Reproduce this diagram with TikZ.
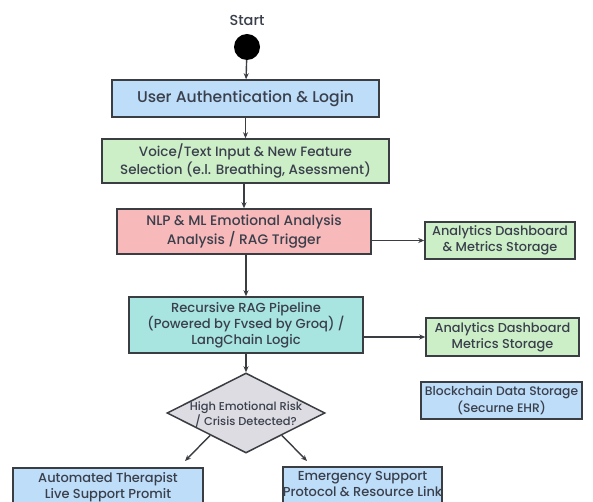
\documentclass[tikz,border=0pt]{standalone}
\usepackage{fontspec}
\setmainfont{Poppins}[UprightFont={* Medium}]
\usetikzlibrary{arrows.meta,shapes.geometric,calc}
\definecolor{txt}{HTML}{3A3F4C}
\definecolor{edge}{HTML}{3A3D42}
\definecolor{bluef}{HTML}{BEDDF8}
\definecolor{greenf}{HTML}{CDEFC8}
\definecolor{redf}{HTML}{F7B9B9}
\definecolor{tealf}{HTML}{A8E4E0}
\definecolor{greyf}{HTML}{DCDCE2}
\begin{document}
\begin{tikzpicture}[x=1pt,y=-1pt,
  box/.style={draw=edge, line width=1.5pt, align=center, inner sep=0pt, text=txt},
  arr/.style={-{Stealth[length=6pt,width=5pt]}, line width=1.4pt, draw=edge}]
\useasboundingbox (0,0) rectangle (593,502);
\clip (0,0) rectangle (593,502);
\fill[white] (0,0) rectangle (593,502);

\node[text=txt, font=\fontsize{14.5}{16}\selectfont] (start) at (247,20) {Start};
\node[circle, fill=black, minimum size=26pt, inner sep=0pt] (dot) at (247,47) {};

\node[box, fill=bluef, minimum width=267pt, minimum height=37pt,
      font=\fontsize{15.6}{18}\selectfont] (b1) at (245.5,98.5) {User Authentication \& Login};
\node[box, fill=greenf, minimum width=287pt, minimum height=44pt,
      font=\fontsize{13.5}{18.5}\selectfont] (b2) at (245.5,161)
      {Voice/Text Input \& New Feature\\Selection (e.l. Breathing, Asessment)};
\node[box, fill=redf, minimum width=254pt, minimum height=45pt,
      font=\fontsize{13.8}{19}\selectfont] (b3) at (244,231.5)
      {NLP \& ML Emotional Analysis\\Analysis / RAG Trigger};
\node[box, fill=tealf, minimum width=234pt, minimum height=56pt,
      font=\fontsize{13.1}{16}\selectfont] (b4) at (246,325)
      {Recursive RAG Pipeline\\(Powered by Fvsed by Groq) /\\LangChain Logic};

\node[box, fill=greenf, minimum width=150pt, minimum height=37pt,
      font=\fontsize{12.9}{16}\selectfont] (a1) at (500,240.5)
      {Analytics Dashboard\\\& Metrics Storage};
\node[box, fill=greenf, minimum width=153pt, minimum height=38pt,
      font=\fontsize{12.9}{16}\selectfont] (a2) at (502.5,337)
      {Analytics Dashboard\\Metrics Storage};
\node[box, fill=bluef, minimum width=161pt, minimum height=37pt,
      font=\fontsize{12.3}{17}\selectfont] (bc) at (501.5,400.5)
      {Blockchain Data Storage\\(Securne EHR)};

\node[diamond, draw=edge, line width=1.5pt, fill=greyf, minimum width=158pt,
      minimum height=80pt, inner sep=0pt] (d) at (246,413) {};
\node[text=txt, align=center, font=\fontsize{11.4}{15}\selectfont] (dt) at (246,415)
      {High Emotional Risk\\/ Crisis Detected?};

\node[box, fill=bluef, minimum width=190pt, anchor=north,
      font=\fontsize{13}{15.5}\selectfont, inner ysep=5pt] (t1) at (108,467)
      {Automated Therapist\\Live Support Promit\\~\\~};
\node[box, fill=bluef, minimum width=159pt, anchor=north,
      font=\fontsize{13}{15.5}\selectfont, inner ysep=5pt] (t2) at (362.5,466)
      {Emergency Support\\Protocol \& Resource Link\\~\\~};

\coordinate (la) at (185,461);
\coordinate (ra) at (307,461);

\draw[arr] (dot) -- (b1);
\draw[arr] (b1) -- (b2);
\draw[arr] (b2.south -| b3) -- (b3.north);
\draw[arr] (b3.south -| b4) -- (b4.north);
\draw[arr] (b4) -- (d.north);
\draw[arr] (b3.east |- a1) -- (a1.west);
\draw[arr] (b4.east |- a2) -- (a2.west);
\draw[arr] ($(d.west)!0.55!(d.south)$) -- (la);
\draw[arr] ($(d.east)!0.55!(d.south)$) -- (ra);
\end{tikzpicture}
\end{document}
